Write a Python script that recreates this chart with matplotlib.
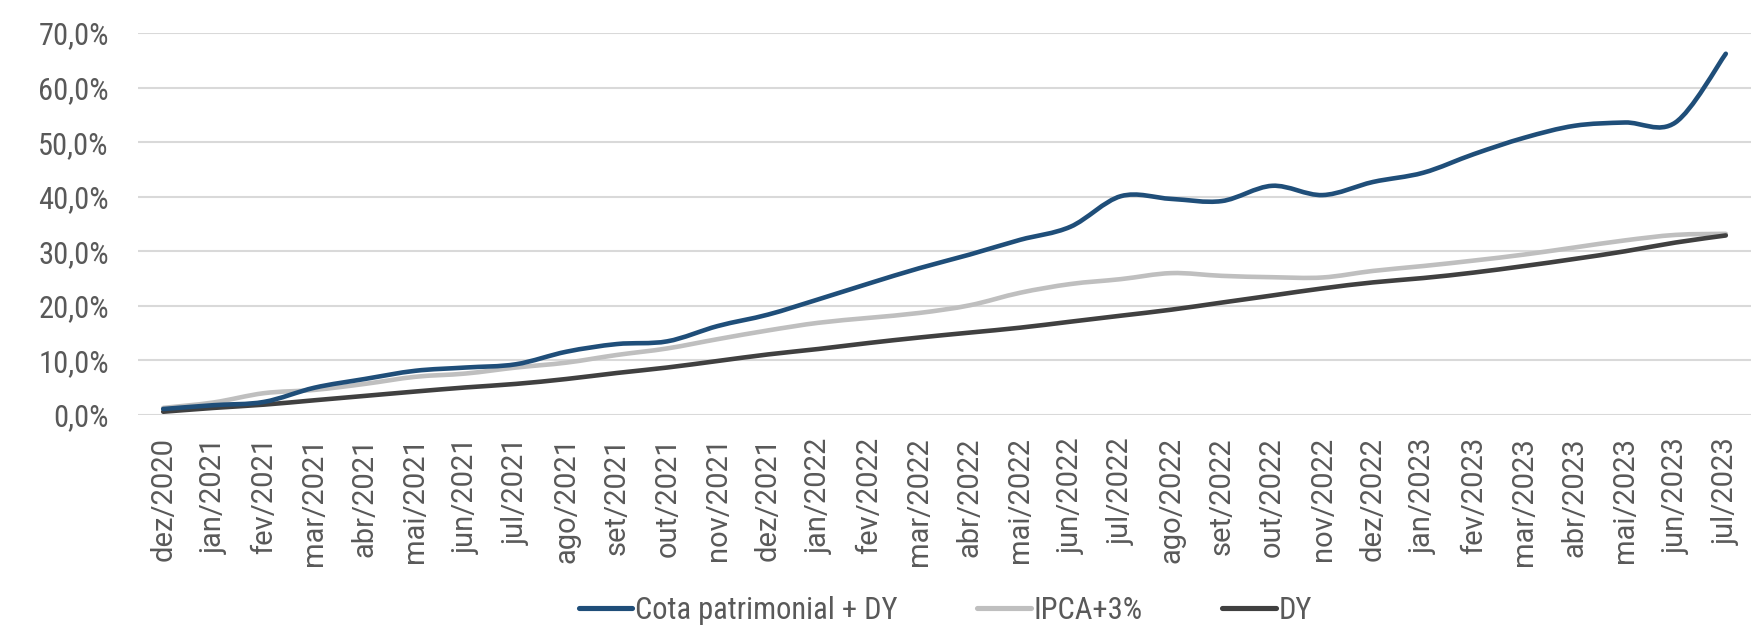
import matplotlib
matplotlib.use("Agg")
import matplotlib.pyplot as plt
from matplotlib.path import Path
from matplotlib.patches import PathPatch
from matplotlib.lines import Line2D
from matplotlib import font_manager as fm
import numpy as np

categories = ["dez/2020", "jan/2021", "fev/2021", "mar/2021", "abr/2021", "mai/2021",
              "jun/2021", "jul/2021", "ago/2021", "set/2021", "out/2021", "nov/2021",
              "dez/2021", "jan/2022", "fev/2022", "mar/2022", "abr/2022", "mai/2022",
              "jun/2022", "jul/2022", "ago/2022", "set/2022", "out/2022", "nov/2022",
              "dez/2022", "jan/2023", "fev/2023", "mar/2023", "abr/2023", "mai/2023",
              "jun/2023", "jul/2023"]

cota_dy = [1.1, 1.8, 2.4, 5.0, 6.6, 8.1, 8.7, 9.3, 11.6, 13.0, 13.5, 16.3,
           18.4, 21.2, 24.1, 26.9, 29.4, 32.1, 34.5, 40.1, 39.6, 39.2, 42.0, 40.3,
           42.7, 44.4, 47.8, 50.8, 53.0, 53.6, 53.6, 66.2]
ipca3 = [1.3, 2.3, 4.0, 4.6, 5.7, 7.0, 7.6, 8.7, 9.6, 11.0, 12.2, 13.9,
         15.5, 16.9, 17.8, 18.7, 20.1, 22.4, 24.0, 24.9, 26.0, 25.5, 25.25, 25.2,
         26.4, 27.3, 28.3, 29.4, 30.7, 32.0, 33.0, 33.2]
dy = [0.6, 1.3, 1.9, 2.7, 3.5, 4.3, 5.05, 5.7, 6.6, 7.7, 8.7, 9.9,
      11.1, 12.1, 13.2, 14.2, 15.1, 16.0, 17.1, 18.2, 19.3, 20.6, 21.9, 23.2,
      24.3, 25.1, 26.1, 27.3, 28.6, 30.0, 31.6, 32.9]
series_names = ["Cota patrimonial + DY", "IPCA+3%", "DY"]
series_colors = ["#1F4E79", "#BFBFBF", "#404040"]
yticks = [0, 10, 20, 30, 40, 50, 60, 70]

# pick a condensed font if one is available
names = {f.name for f in fm.fontManager.ttflist}
cond_family = None
for cand in ["Roboto Condensed", "Liberation Sans Narrow", "Open Sans Condensed",
             "DejaVu Sans Condensed"]:
    if cand in names:
        cond_family = cand
        break
cond_props = dict(family=[cond_family or "DejaVu Sans", "DejaVu Sans"])
if cond_family is None:
    cond_props["stretch"] = "condensed"


def smooth_path(xs, ys):
    pts = np.column_stack([xs, ys]).astype(float)
    n = len(pts)
    verts = [pts[0]]
    codes = [Path.MOVETO]
    for i in range(n - 1):
        p0 = pts[i - 1] if i > 0 else pts[i]
        p1 = pts[i]
        p2 = pts[i + 1]
        p3 = pts[i + 2] if i + 2 < n else pts[i + 1]
        c1 = p1 + (p2 - p0) / 6.0
        c2 = p2 - (p3 - p1) / 6.0
        verts += [c1, c2, p2]
        codes += [Path.CURVE4] * 3
    return Path(verts, codes)

W, H = 1751, 628
fig = plt.figure(figsize=(W / 100, H / 100), dpi=100)
left, right, top, bottom = 138, 1751, 33, 415
ax = fig.add_axes([left / W, 1 - bottom / H, (right - left) / W, (bottom - top) / H])

x = np.arange(len(categories))
lw = 3.3
data = [cota_dy, ipca3, dy]
for idx in [1, 2, 0]:
    patch = PathPatch(smooth_path(x, data[idx]), facecolor="none", edgecolor=series_colors[idx],
                      lw=lw, capstyle="round", joinstyle="round", transform=ax.transData,
                      clip_on=False, zorder=3)
    ax.add_patch(patch)

ax.set_xlim(-0.5, len(categories) - 0.5)
ax.set_ylim(0, 70)
ax.set_yticks(yticks)
ax.set_yticklabels([f"{v:.1f}%".replace(".", ",") for v in yticks],
                   fontsize=22, color="#595959", **cond_props)
ax.set_xticks(x)
ax.set_xticklabels(categories, rotation=90, family=["Roboto", "DejaVu Sans"], stretch="normal",
                   fontsize=21, color="#595959", va="top", ha="center")
ax.tick_params(axis="y", length=0, pad=21)
ax.tick_params(axis="x", length=0, pad=16)
ax.grid(axis="y", color="#D9D9D9", lw=1.5)
ax.set_axisbelow(True)
for s in ax.spines.values():
    s.set_visible(False)

handles = [Line2D([0], [0], color=c, lw=lw + 0.4, solid_capstyle="round") for c in series_colors]
legend_font = dict(size=22, **cond_props)
fig.legend(handles, series_names, loc="center", bbox_to_anchor=(0.54, 0.028), ncol=3,
           frameon=False, handlelength=1.75, handletextpad=0.1, columnspacing=2.6,
           prop=legend_font, labelcolor="#595959")

fig.savefig("out.png", dpi=100, facecolor="white")
